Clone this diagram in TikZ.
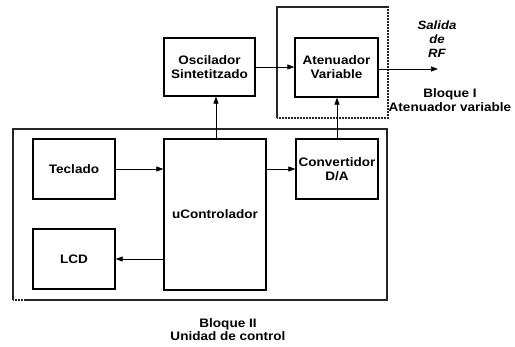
\documentclass[tikz,border=0pt]{standalone}
\usepackage{fontspec}
\setmainfont{Liberation Sans}[FakeStretch=1.1]
\usetikzlibrary{arrows.meta,calc}
\tikzset{
  box/.style={draw=black, line width=1.3pt, inner sep=0pt, align=center, font=\bfseries\fontsize{12.3}{14}\selectfont},
  group/.style={draw=black!85, line width=1.1pt, dash pattern=on 1.2pt off 0.3pt},
  arr/.style={draw=black, line width=0.7pt, -{Triangle[length=7pt,width=5pt]}},
  lbl/.style={align=center, inner sep=0pt, font=\bfseries\fontsize{12.3}{13.5}\selectfont}
}
\begin{document}
\begin{tikzpicture}[x=1pt,y=-1pt]
\useasboundingbox (0,0) rectangle (515,347);
\node[group, minimum width=111pt, minimum height=111pt, inner sep=0pt] (b1) at (332.5,62.5) {};
\node[group, minimum width=374pt, minimum height=171pt, inner sep=0pt] (b2) at (200,214.5) {};
\node[box, minimum width=91pt, minimum height=58pt] (osc) at (209.5,67) {Oscilador\\Sintetitzado};
\node[box, minimum width=83pt, minimum height=59pt] (aten) at (336.5,67.5) {Atenuador\\Variable};
\node[box, minimum width=82pt, minimum height=60pt] (tec) at (74,169) {Teclado};
\node[box, minimum width=82pt, minimum height=60pt] (lcd) at (74,259) {LCD};
\node[box, minimum width=102pt, minimum height=151pt] (uc) at (215,214.5) {uControlador};
\node[box, minimum width=82pt, minimum height=60pt] (conv) at (337,169) {Convertidor\\D/A};
\coordinate (out) at (438,69);
\node[lbl, font=\bfseries\itshape\fontsize{12}{14}\selectfont] (sal) at (437,39.5) {Salida\\de\\RF};
\node[lbl] (l1) at (450,100) {Bloque I\\Atenuador variable};
\node[lbl] (l2) at (228,329.5) {Bloque II\\Unidad de control};
\draw[arr] (osc.east) -- (osc.east -| aten.west);
\draw[arr] (aten.east |- out) -- (out);
\draw[arr] ([xshift=1pt]uc.north) -- ([xshift=1pt]uc.north |- osc.south);
\draw[arr] (conv.north) -- (aten.south -| conv.north);
\draw[arr] (tec.east) -- (tec.east -| uc.west);
\draw[arr] (uc.west |- lcd.east) -- (lcd.east);
\draw[arr] (uc.east |- conv.west) -- (conv.west);
\end{tikzpicture}
\end{document}
